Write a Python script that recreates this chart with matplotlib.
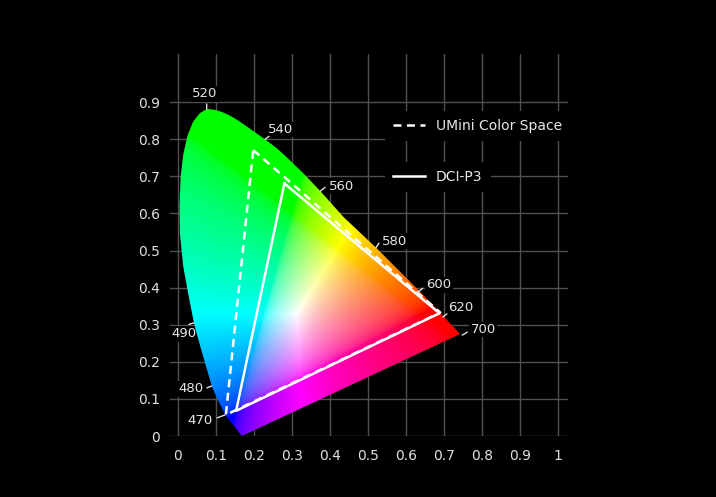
import numpy as np
import matplotlib
matplotlib.use("Agg")
import matplotlib.pyplot as plt
from matplotlib.patches import Polygon
from matplotlib.lines import Line2D

# spectral locus (violet tip -> left edge -> 520 -> right edge -> 700)
locus_x = [0.168, 0.124, 0.097, 0.089, 0.074, 0.049, 0.042, 0.030, 0.014, 0.005,
           0.004, 0.007, 0.014, 0.025, 0.040, 0.057, 0.0755, 0.095, 0.115, 0.135,
           0.155, 0.175, 0.200, 0.229, 0.260, 0.290, 0.330, 0.374, 0.435, 0.521,
           0.637, 0.703, 0.742]
locus_y = [0.000, 0.057, 0.115, 0.135, 0.187, 0.277, 0.305, 0.367, 0.456, 0.546,
           0.620, 0.700, 0.760, 0.810, 0.848, 0.870, 0.882, 0.880, 0.874, 0.865,
           0.853, 0.839, 0.821, 0.800, 0.776, 0.748, 0.708, 0.661, 0.591, 0.508,
           0.389, 0.318, 0.275]

# wavelength marks on the locus
wl_labels = ["520", "540", "560", "580", "600", "620", "700", "490", "480", "470"]
wl_x = [0.0755, 0.229, 0.374, 0.521, 0.628, 0.697, 0.748, 0.042, 0.089, 0.124]
wl_y = [0.882, 0.800, 0.660, 0.508, 0.385, 0.321, 0.272, 0.305, 0.135, 0.057]

# gamut triangles
umini_x = [0.198, 0.690, 0.126]
umini_y = [0.771, 0.333, 0.057]
dci_x = [0.280, 0.688, 0.153]
dci_y = [0.681, 0.331, 0.068]

x_ticks = [0, 0.1, 0.2, 0.3, 0.4, 0.5, 0.6, 0.7, 0.8, 0.9, 1]
x_tick_labels = ["0", "0.1", "0.2", "0.3", "0.4", "0.5", "0.6", "0.7", "0.8", "0.9", "1"]
y_ticks = [0, 0.1, 0.2, 0.3, 0.4, 0.5, 0.6, 0.7, 0.8, 0.9]
y_tick_labels = ["0", "0.1", "0.2", "0.3", "0.4", "0.5", "0.6", "0.7", "0.8", "0.9"]

# label layout: (tick end dx, dy), (text dx, dy) in pixels from the locus point
tick_off = [(0, 5), (4, 3), (5, 4), (3, 4.5), (6, 5), (4, 3), (5, 3), (-5, -1.5), (-5, -2), (-8, -3)]
text_off = [(-2, 15), (16, 10), (21, 5), (19, 6.5), (22, 8.5), (18, 9), (21, 5.5), (-10, -11), (-21, -3), (-25, -6)]


def chromaticity_image(xmax, ymax, n=500):
    gx = np.linspace(0, xmax, n)
    gy = np.linspace(0.001, ymax, n)
    X, Y = np.meshgrid(gx, gy)
    cx = X / Y
    cz = (1 - X - Y) / Y
    m = np.array([[3.2406, -1.5372, -0.4986],
                  [-0.9689, 1.8758, 0.0415],
                  [0.0557, -0.2040, 1.0570]])
    xyz = np.stack([cx, np.ones_like(cx), cz], axis=-1)
    rgb = xyz @ m.T
    rgb = np.clip(rgb, 0, None)
    rgb = rgb / rgb.max(axis=-1, keepdims=True)
    rgb = np.where(rgb <= 0.0031308, 12.92 * rgb, 1.055 * rgb ** (1 / 2.4) - 0.055)
    return np.clip(rgb, 0, 1), (0, xmax, 0.001, ymax)


fig = plt.figure(figsize=(7.16, 4.97), dpi=100, facecolor="black")
ax = fig.add_axes([0.2369, 0.1227, 0.5563, 0.7686], facecolor="black")
ax.set_xlim(-0.022, 1.026)
ax.set_ylim(0, 1.03)

ax.grid(True, color="#505050", lw=1.0)
ax.set_axisbelow(True)
for s in ax.spines.values():
    s.set_visible(False)
ax.set_xticks(x_ticks, x_tick_labels)
ax.set_yticks(y_ticks, y_tick_labels)
ax.tick_params(axis="both", length=0, colors="#e0e0e0", labelsize=10)
ax.tick_params(axis="y", pad=7)
ax.tick_params(axis="x", pad=9)

img, ext = chromaticity_image(0.76, 0.9)
im = ax.imshow(img, extent=ext, origin="lower", aspect="auto",
               interpolation="bilinear", zorder=1)
locus = Polygon(np.column_stack([locus_x, locus_y]), closed=True,
                transform=ax.transData)
im.set_clip_path(locus)

ax.plot(umini_x + umini_x[:1], umini_y + umini_y[:1], color="white", lw=1.8,
        dashes=(3.2, 2.2), zorder=3)
ax.plot(dci_x + dci_x[:1], dci_y + dci_y[:1], color="white", lw=1.8, zorder=3)

# labels sit above the grid but under the coloured locus
for lab, x, y, t, o in zip(wl_labels, wl_x, wl_y, tick_off, text_off):
    ax.annotate("", xy=(x, y), xytext=t, textcoords="offset pixels",
                arrowprops=dict(arrowstyle="-", color="#e0e0e0", lw=1.0,
                                shrinkA=0, shrinkB=0), zorder=4)
    ax.annotate(lab, xy=(x, y), xytext=o, textcoords="offset pixels",
                ha="center", va="center", fontsize=9.5, color="#e6e6e6", zorder=0.8,
                bbox=dict(boxstyle="square,pad=0.1", fc="black", ec="none"))

h1 = Line2D([], [], color="white", lw=1.8, dashes=(3.2, 2.2))
h2 = Line2D([], [], color="white", lw=1.8)
leg_kw = dict(loc="center left", frameon=True, facecolor="black", edgecolor="none",
              framealpha=1, fontsize=10, labelcolor="#e8e8e8", handlelength=2.3,
              handletextpad=0.8, borderpad=0.6, borderaxespad=0, fancybox=False)
leg1 = ax.legend([h1], ["UMini Color Space"], bbox_to_anchor=(0.54, 0.8115), **leg_kw)
ax.add_artist(leg1)
ax.legend([h2], ["DCI-P3"], bbox_to_anchor=(0.54, 0.678), **leg_kw)

fig.savefig("out.png", dpi=100, facecolor="black")
